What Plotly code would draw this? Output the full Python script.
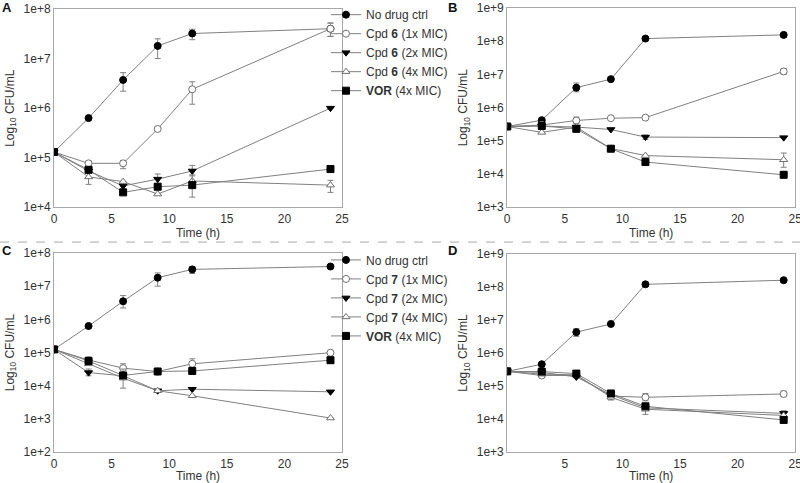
import plotly.graph_objects as go

time = [0, 3, 6, 9, 12, 24]

names6 = ["No drug ctrl", "Cpd <b>6</b> (1x MIC)", "Cpd <b>6</b> (2x MIC)",
          "Cpd <b>6</b> (4x MIC)", "<b>VOR</b> (4x MIC)"]
names7 = ["No drug ctrl", "Cpd <b>7</b> (1x MIC)", "Cpd <b>7</b> (2x MIC)",
          "Cpd <b>7</b> (4x MIC)", "<b>VOR</b> (4x MIC)"]

# panel A (cpd 6, strain 1)
a_ctrl = [1.3e5, 6.3e5, 3.7e6, 1.8e7, 3.2e7, 4.0e7]
a_1x = [1.3e5, 7.7e4, 7.7e4, 3.8e5, 2.4e6, 4.0e7]
a_2x = [1.3e5, 5.4e4, 2.7e4, 3.7e4, 5.4e4, 1.0e6]
a_4x = [1.3e5, 4.1e4, 3.3e4, 1.85e4, 3.4e4, 2.8e4]
a_vor = [1.3e5, 5.7e4, 2.0e4, 2.6e4, 2.8e4, 5.9e4]
# error bar bounds (low, high), None = no bar
a_ctrl_lo = [None, None, 2.2e6, 1.0e7, 2.4e7, 2.8e7]
a_ctrl_hi = [None, None, 5.2e6, 2.5e7, 3.9e7, 5.2e7]
a_1x_lo = [None, 7.0e4, 6.0e4, None, 1.2e6, 2.8e7]
a_1x_hi = [None, 8.5e4, 8.8e4, None, 3.4e6, 5.2e7]
a_2x_lo = [None, None, None, 2.9e4, 4.3e4, None]
a_2x_hi = [None, None, None, 4.7e4, 7.0e4, None]
a_4x_lo = [None, 2.9e4, None, None, None, 2.0e4]
a_4x_hi = [None, 5.6e4, None, None, None, 3.5e4]
a_vor_lo = [None, None, None, None, 1.6e4, None]
a_vor_hi = [None, None, None, None, 4.5e4, None]

# panel B (cpd 6, strain 2)
b_ctrl = [2.7e5, 4.2e5, 4.0e6, 7.2e6, 1.2e8, 1.55e8]
b_1x = [2.7e5, 3.0e5, 4.1e5, 4.8e5, 5.0e5, 1.23e7]
b_2x = [2.7e5, 2.8e5, 2.6e5, 2.2e5, 1.3e5, 1.25e5]
b_4x = [2.7e5, 1.8e5, 2.6e5, 5.9e4, 3.6e4, 2.7e4]
b_vor = [2.7e5, 2.8e5, 2.3e5, 5.8e4, 2.3e4, 9.5e3]
b_ctrl_lo = [None, None, 3.0e6, None, None, 1.3e8]
b_ctrl_hi = [None, None, 5.5e6, None, None, 1.8e8]
b_1x_lo = [None, None, 3.3e5, None, None, 1.0e7]
b_1x_hi = [None, None, 5.2e5, None, None, 1.5e7]
b_2x_lo = [None, None, None, None, 1.1e5, None]
b_2x_hi = [None, None, None, None, 1.5e5, None]
b_4x_lo = [None, None, None, None, None, 1.6e4]
b_4x_hi = [None, None, None, None, None, 4.3e4]
b_vor_lo = [None, None, None, None, None, 7.8e3]
b_vor_hi = [None, None, None, None, None, 1.2e4]

# panel C (cpd 7, strain 1)
c_ctrl = [1.25e5, 6.3e5, 3.5e6, 1.8e7, 3.2e7, 3.9e7]
c_1x = [1.25e5, 6.0e4, 3.4e4, 2.7e4, 4.6e4, 9.9e4]
c_2x = [1.25e5, 2.5e4, 2.0e4, 7.1e3, 7.9e3, 6.6e3]
c_4x = [1.25e5, 4.6e4, 1.7e4, 7.1e3, 5.0e3, 1.07e3]
c_vor = [1.25e5, 5.6e4, 2.05e4, 2.7e4, 2.8e4, 5.9e4]
c_ctrl_lo = [None, None, 2.2e6, 1.0e7, 2.4e7, None]
c_ctrl_hi = [None, None, 5.2e6, 2.5e7, 3.9e7, None]
c_1x_lo = [None, None, 2.4e4, None, 3.2e4, None]
c_1x_hi = [None, None, 4.6e4, None, 6.5e4, None]
c_2x_lo = [None, 2.0e4, None, None, None, None]
c_2x_hi = [None, 3.2e4, None, None, None, None]
c_4x_lo = [None, None, 8.5e3, None, None, None]
c_4x_hi = [None, None, 3.2e4, None, None, None]
c_vor_lo = [None, 4.3e4, None, None, None, None]
c_vor_hi = [None, 7.3e4, None, None, None, None]

# panel D (cpd 7, strain 2)
d_ctrl = [2.8e5, 4.6e5, 4.3e6, 7.6e6, 1.2e8, 1.6e8]
d_1x = [2.8e5, 2.1e5, 2.1e5, 5.0e4, 4.6e4, 5.8e4]
d_2x = [2.8e5, 2.6e5, 1.9e5, 5.5e4, 2.2e4, 1.5e4]
d_4x = [2.8e5, 2.3e5, 2.2e5, 4.6e4, 2.0e4, 1.3e4]
d_vor = [2.8e5, 2.75e5, 2.4e5, 6.0e4, 2.45e4, 9.5e3]
d_ctrl_lo = [None, None, 3.2e6, None, None, 1.4e8]
d_ctrl_hi = [None, None, 5.5e6, None, None, 1.85e8]
d_1x_lo = [None, None, None, None, 3.6e4, 4.8e4]
d_1x_hi = [None, None, None, None, 6.0e4, 7.0e4]
d_2x_lo = [None, None, None, None, None, 1.2e4]
d_2x_hi = [None, None, None, None, None, 1.8e4]
d_4x_lo = [None, None, None, 3.8e4, 1.4e4, None]
d_4x_hi = [None, None, None, 5.6e4, 2.6e4, None]
d_vor_lo = [None, None, None, None, None, 8.0e3]
d_vor_hi = [None, None, None, None, None, 1.1e4]

LINE = "#808080"
symbols = ["circle", "circle", "triangle-down", "triangle-up", "square"]
fills = ["black", "white", "black", "white", "black"]
outlines = ["black", "#707070", "black", "#707070", "black"]

panels = [
    ("x", "y", [a_ctrl, a_1x, a_2x, a_4x, a_vor],
     [(a_ctrl_lo, a_ctrl_hi), (a_1x_lo, a_1x_hi), (a_2x_lo, a_2x_hi), (a_4x_lo, a_4x_hi), (a_vor_lo, a_vor_hi)],
     names6, "legend", True),
    ("x2", "y2", [b_ctrl, b_1x, b_2x, b_4x, b_vor],
     [(b_ctrl_lo, b_ctrl_hi), (b_1x_lo, b_1x_hi), (b_2x_lo, b_2x_hi), (b_4x_lo, b_4x_hi), (b_vor_lo, b_vor_hi)],
     names6, "legend", False),
    ("x3", "y3", [c_ctrl, c_1x, c_2x, c_4x, c_vor],
     [(c_ctrl_lo, c_ctrl_hi), (c_1x_lo, c_1x_hi), (c_2x_lo, c_2x_hi), (c_4x_lo, c_4x_hi), (c_vor_lo, c_vor_hi)],
     names7, "legend2", True),
    ("x4", "y4", [d_ctrl, d_1x, d_2x, d_4x, d_vor],
     [(d_ctrl_lo, d_ctrl_hi), (d_1x_lo, d_1x_hi), (d_2x_lo, d_2x_hi), (d_4x_lo, d_4x_hi), (d_vor_lo, d_vor_hi)],
     names7, "legend2", False),
]

fig = go.Figure()
for xa, ya, series, errs, names, leg, show in panels:
    for i in range(5):
        y = series[i]
        lo, hi = errs[i]
        plus = [h - v if h is not None else 0 for h, v in zip(hi, y)]
        minus = [v - l if l is not None else 0 for l, v in zip(lo, y)]
        fig.add_scatter(
            x=time, y=y, xaxis=xa, yaxis=ya, name=names[i],
            mode="lines+markers", legend=leg, showlegend=show,
            line=dict(color=LINE, width=1),
            marker=dict(symbol=symbols[i], size=7, color=fills[i],
                        line=dict(color=outlines[i], width=1)),
            error_y=dict(type="data", symmetric=False, array=plus, arrayminus=minus,
                         color=LINE, thickness=1, width=3),
        )

font = dict(family="Liberation Sans, Arial, sans-serif", size=12, color="#333333")
ax_common = dict(showgrid=False, zeroline=False, showline=True, mirror=True,
                 linecolor="#a8a8a8", linewidth=1, ticks="", ticklen=0,
                 tickfont=font, automargin=False, ticklabeloverflow="allow")
xt = dict(title=dict(text="Time (h)", font=font, standoff=2), range=[0, 25], **ax_common)
yt = dict(type="log", dtick=1, exponentformat="e", minexponent=0, showexponent="all",
          title=dict(text="Log<sub>10</sub> CFU/mL", font=font, standoff=6), **ax_common)
letter = dict(size=13, color="#111111")

fig.update_layout(
    width=800, height=483, margin=dict(l=0, r=0, t=0, b=0),
    paper_bgcolor="white", plot_bgcolor="white", font=font,
    xaxis=dict(domain=[0.0675, 0.4275], anchor="y", tickvals=[0, 5, 10, 15, 20, 25], **xt),
    xaxis2=dict(domain=[0.634, 0.994], anchor="y2", tickvals=[0, 5, 10, 15, 20, 25], **xt),
    xaxis3=dict(domain=[0.0675, 0.4275], anchor="y3", tickvals=[0, 5, 10, 15, 20, 25], **xt),
    xaxis4=dict(domain=[0.634, 0.994], anchor="y4", tickvals=[5, 10, 15, 20, 25], **xt),
    yaxis=dict(domain=[0.5756, 0.9896], anchor="x", range=[4, 8], **yt),
    yaxis2=dict(domain=[0.5756, 0.9917], anchor="x2", range=[3, 9], **yt),
    yaxis3=dict(domain=[0.0642, 0.4803], anchor="x3", range=[2, 8], **yt),
    yaxis4=dict(domain=[0.0642, 0.4783], anchor="x4", range=[3, 9], **yt),
    legend=dict(x=0.4075, y=1.008, xanchor="left", yanchor="top", font=font,
                bgcolor="rgba(0,0,0,0)", tracegroupgap=0, itemwidth=30),
    legend2=dict(x=0.4075, y=0.496, xanchor="left", yanchor="top", font=font,
                 bgcolor="rgba(0,0,0,0)", tracegroupgap=0, itemwidth=30),
    shapes=[dict(type="line", xref="paper", yref="paper", x0=0, x1=1, y0=0.503, y1=0.503,
                 line=dict(color="#a8a8a8", width=1, dash="dash"))],
    annotations=[
        dict(text="<b>A</b>", x=0.0, y=1.012, xref="paper", yref="paper",
             xanchor="left", yanchor="top", showarrow=False, font=letter),
        dict(text="<b>B</b>", x=0.558, y=1.012, xref="paper", yref="paper",
             xanchor="left", yanchor="top", showarrow=False, font=letter),
        dict(text="<b>C</b>", x=0.0, y=0.5045, xref="paper", yref="paper",
             xanchor="left", yanchor="top", showarrow=False, font=letter),
        dict(text="<b>D</b>", x=0.558, y=0.5045, xref="paper", yref="paper",
             xanchor="left", yanchor="top", showarrow=False, font=letter),
    ],
)

# drop the browser's default page margin so the figure sits at the window corner
fig.write_html("out.html", config={"displayModeBar": False},
               post_script="document.body.style.margin='0';")
